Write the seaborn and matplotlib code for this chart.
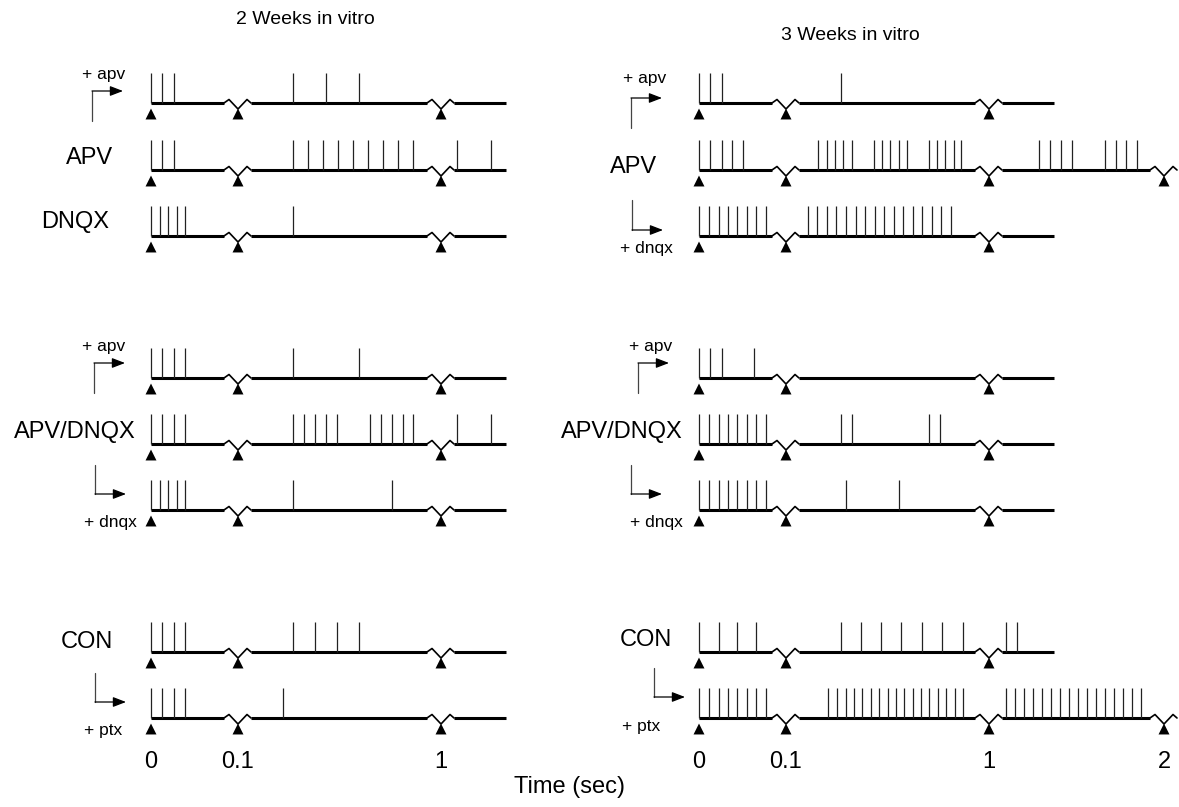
import numpy as np
import matplotlib
matplotlib.use("Agg")
import matplotlib.pyplot as plt
import seaborn as sns

# spike times in seconds, one list per trace (top to bottom)
wk2_apv_plus = [0, 0.013, 0.026, 0.346, 0.491, 0.637]
wk2_apv = [0, 0.013, 0.026, 0.346, 0.412, 0.478, 0.544, 0.610, 0.678, 0.744,
           0.810, 0.878, 1.093, 1.284]
wk2_dnqx = [0, 0.0105, 0.020, 0.030, 0.039, 0.346]
wk2_ad_plus_apv = [0, 0.013, 0.026, 0.039, 0.346, 0.637]
wk2_apv_dnqx = [0, 0.013, 0.026, 0.039, 0.346, 0.394, 0.443, 0.491, 0.540,
                0.685, 0.734, 0.783, 0.831, 0.878, 1.093, 1.284]
wk2_ad_plus_dnqx = [0, 0.0105, 0.020, 0.030, 0.039, 0.346, 0.783]
wk2_con = [0, 0.013, 0.026, 0.039, 0.346, 0.443, 0.540, 0.637]
wk2_con_ptx = [0, 0.013, 0.026, 0.039, 0.300]

wk3_apv_plus = [0, 0.013, 0.026, 0.345]
wk3_apv = [0, 0.013, 0.026, 0.038, 0.051, 0.244, 0.281, 0.317, 0.354, 0.391,
           0.489, 0.526, 0.563, 0.599, 0.636, 0.736, 0.771, 0.807, 0.843, 0.878,
           1.284, 1.349, 1.411, 1.473, 1.661, 1.724, 1.785, 1.846]
wk3_apv_plus_dnqx = [0, 0.0115, 0.0226, 0.0333, 0.044, 0.0548, 0.0659, 0.0767,
                     0.198, 0.238, 0.281, 0.323, 0.366, 0.409, 0.451, 0.493,
                     0.535, 0.578, 0.620, 0.661, 0.705, 0.747, 0.787, 0.831]
wk3_ad_plus_apv = [0, 0.013, 0.026, 0.063]
wk3_apv_dnqx = [0, 0.0115, 0.0226, 0.0333, 0.044, 0.0548, 0.0659, 0.0767,
                0.345, 0.393, 0.736, 0.783]
wk3_ad_plus_dnqx = [0, 0.0115, 0.0226, 0.0333, 0.044, 0.0548, 0.0659, 0.0767,
                    0.366, 0.602]
wk3_con = [0, 0.0226, 0.044, 0.0659, 0.345, 0.434, 0.523, 0.612, 0.701, 0.792,
           0.883, 1.097, 1.158]
wk3_con_ptx = [0, 0.0115, 0.0226, 0.0333, 0.044, 0.0548, 0.0659, 0.0767,
               0.288, 0.326, 0.364, 0.402, 0.439, 0.476, 0.513, 0.550, 0.587,
               0.624, 0.661, 0.698, 0.736, 0.773, 0.811, 0.848, 0.885,
               1.097, 1.147, 1.198, 1.250, 1.301, 1.353, 1.404, 1.455, 1.507,
               1.558, 1.610, 1.661, 1.713, 1.764, 1.815, 1.867]

wk2_traces = [wk2_apv_plus, wk2_apv, wk2_dnqx, wk2_ad_plus_apv, wk2_apv_dnqx,
              wk2_ad_plus_dnqx, wk2_con, wk2_con_ptx]
wk3_traces = [wk3_apv_plus, wk3_apv, wk3_apv_plus_dnqx, wk3_ad_plus_apv,
              wk3_apv_dnqx, wk3_ad_plus_dnqx, wk3_con, wk3_con_ptx]

# recording length shown per trace (s)
wk2_length = [1.37, 1.37, 1.37, 1.37, 1.37, 1.37, 1.37, 1.37]
wk3_length = [1.37, 2.0, 1.37, 1.37, 1.37, 1.37, 1.37, 2.0]

wk2_labels = ["+ apv", "APV", "DNQX", "+ apv", "APV/DNQX", "+ dnqx", "CON", "+ ptx"]
wk3_labels = ["+ apv", "APV", "+ dnqx", "+ apv", "APV/DNQX", "+ dnqx", "CON", "+ ptx"]

wk2_ticks = [0, 0.1, 1]
wk3_ticks = [0, 0.1, 1, 2]
tick_labels = ["0", "0.1", "1", "2"]

# ---- layout (figure pixels) ----
W, H = 1179, 807
ROW_Y = [103, 170, 236, 378, 444, 510, 652, 718]
SPIKE_H = 30
ZZ_X = np.array([-14, -9, 0, 9, 13])
ZZ_Y = np.array([0, -3.5, 6, -3.5, 0])

# per row: kind, text x / y offset, arrow x, arrow top / bottom offset
wk2_layout = [("up", -47, -28, -59, -12, 18), ("big", -38, -12, 0, 0, 0),
              ("big", -42, -14, 0, 0, 0), ("up", -47, -31, -57, -15, 15),
              ("big", -15, -12, 0, 0, 0), ("down", -41, 12, -56, -45, -16),
              ("big", -38, -10, 0, 0, 0), ("down", -48, 13, -56, -45, -16)]
wk3_layout = [("up", -54, -24, -68, -5, 25), ("big", -42, -3, 0, 0, 0),
              ("down", -53, 12, -67, -36, -6), ("up", -48, -31, -61, -15, 15),
              ("big", -16, -12, 0, 0, 0), ("down", -43, 12, -68, -45, -16),
              ("big", -27, -12, 0, 0, 0), ("down", -58, 9, -45, -50, -21)]


def to_u(t):
    # broken time axis: 0-0.1 s, 0.1-1 s and 1-2 s drawn at different scales
    t = np.asarray(t, dtype=float)
    return np.where(t <= 0.1, t / 0.1 * 87,
                    np.where(t <= 1, 87 + (t - 0.1) / 0.9 * 203,
                             290 + (t - 1) * 175))


def draw_label(ax, text, base, spec):
    kind, tx, ty, ax_x, a_top, a_bot = spec
    if kind == "big":
        ax.text(tx, base + ty, text, ha="right", va="center", fontsize=17)
        return
    ax.text(tx, base + ty, text, ha="center", va="center", fontsize=12.5)
    ax.plot([ax_x, ax_x], [base + a_top, base + a_bot], color="#444444", lw=0.9)
    yh = base + a_top if kind == "up" else base + a_bot
    ax.annotate("", xy=(ax_x + 31, yh), xytext=(ax_x, yh),
                arrowprops=dict(arrowstyle="-|>,head_length=0.65,head_width=0.25",
                                color="black", lw=0.9, shrinkA=0, shrinkB=0))


def draw_panel(ax, traces, lengths, labels, layout, ticks):
    tri_x, tri_y = [], []
    for i, (spikes, dur) in enumerate(zip(traces, lengths)):
        base = ROW_Y[i]
        breaks = [b for b in (0.1, 1, 2) if b <= dur]
        start = 0.0
        for b in breaks:
            ub = float(to_u(b))
            ax.plot([start, ub - 14], [base, base], color="black", lw=2.2,
                    solid_capstyle="butt")
            ax.plot(ub + ZZ_X, base + ZZ_Y, color="black", lw=1.2)
            start = ub + 13
        if dur < 2:
            ax.plot([start, float(to_u(dur))], [base, base], color="black",
                    lw=2.2, solid_capstyle="butt")
        ax.vlines(to_u(spikes), base - SPIKE_H, base, color="#222222", lw=0.9)
        tri_x += [0.0] + [float(to_u(b)) for b in breaks]
        tri_y += [base + 11] * (len(breaks) + 1)
        draw_label(ax, labels[i], base, layout[i])
    sns.scatterplot(x=tri_x, y=tri_y, marker="^", s=62, color="black",
                    edgecolor="none", ax=ax, legend=False)
    ax.set_ylim(745, 0)
    ax.set_yticks([])
    ax.set_xticks(to_u(ticks))
    ax.set_xticklabels(tick_labels[:len(ticks)], fontsize=17)
    ax.tick_params(axis="x", length=0, pad=4, colors="black")
    sns.despine(ax=ax, left=True, bottom=True)
    ax.set_xlabel("")
    ax.set_ylabel("")


sns.set_theme(style="white")
plt.rcParams["font.family"] = ["Liberation Sans", "DejaVu Sans"]
plt.rcParams["text.color"] = "black"

fig = plt.figure(figsize=(W / 100, H / 100), dpi=100)
ax_l = fig.add_axes([0, (H - 745) / H, 560 / W, 745 / H])
ax_r = fig.add_axes([560 / W, (H - 745) / H, 619 / W, 745 / H])
ax_l.patch.set_alpha(0)
ax_r.patch.set_alpha(0)

draw_panel(ax_l, wk2_traces, wk2_length, wk2_labels, wk2_layout, wk2_ticks)
ax_l.set_xlim(-151, 409)
draw_panel(ax_r, wk3_traces, wk3_length, wk3_labels, wk3_layout, wk3_ticks)
ax_r.set_xlim(-139, 480)

ax_l.text(154, 20, "2 Weeks in vitro", ha="center", va="center", fontsize=14)
ax_r.text(151, 35, "3 Weeks in vitro", ha="center", va="center", fontsize=14)
fig.text(570 / W, 1 - 787 / H, "Time (sec)", ha="center", va="center", fontsize=17)

fig.savefig("out.png", dpi=100)
